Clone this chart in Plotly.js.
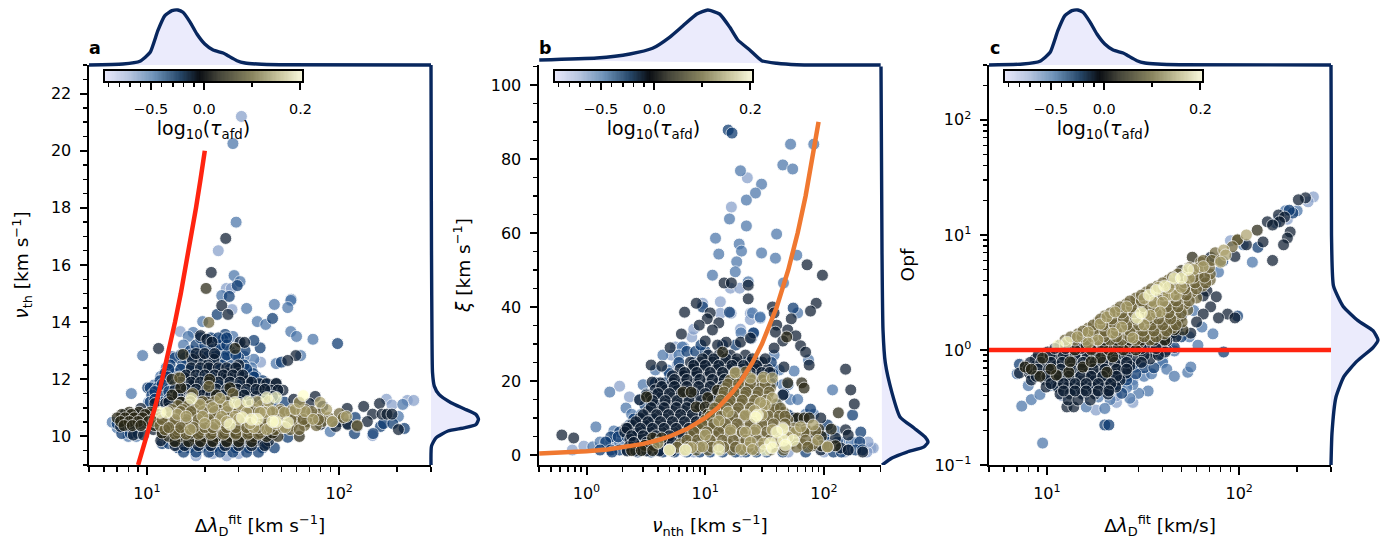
<!DOCTYPE html>
<html><head><meta charset="utf-8">
<script src="https://cdn.plot.ly/plotly-3.0.1.min.js"></script>
<style>html,body{margin:0;padding:0;background:#fff}</style></head>
<body><div id="chart" style="width:1397px;height:542px"></div>
<script>
// Scatter values: rows of [y, [x, x, ...]] per colour tier
const aPale=[[21.2,[31]],[16.5,[23.5]],[15.18,[25.9,27.5]],[14.44,[27.7]],[13.67,[14.9]],[12.6,[39]],[10.03,[149]],[11.3,[176]],[11.1,[188]],[11.26,[226,244]],[12.3,[13.2]],[12.0,[12.4]],[11.7,[11.4,36]],[11.4,[10.6,42]],[9.4,[22,30]],[9.32,[18,26]]];
const aLight=[[20.25,[28]],[17.5,[29.1]],[15.63,[28.4]],[15.42,[30.5]],[14.93,[24.5]],[14.8,[56.3]],[14.62,[46]],[14.76,[56]],[14.51,[54]],[14.48,[33]],[14.02,[37.5,19.5]],[13.92,[41.5]],[13.64,[17.4]],[13.67,[56]],[13.5,[60,16.4,28]],[13.4,[73]],[12.83,[9.5,63]],[12.55,[47]],[12.7,[36]],[11.5,[8.3]],[10.17,[89.8]],[10.7,[203]],[11.12,[214]],[13.2,[15.5,24,30]],[12.8,[13.5,32]],[12.4,[12.6,35]],[12.1,[11.8,37]],[11.8,[10.9,40]],[11.2,[10.2,44]],[10.0,[8,8.8]],[10.3,[7,7.5]],[10.5,[6.6]]];
const aBlue=[[15.28,[29.5]],[14.9,[26.8]],[14.27,[23.2]],[14.13,[45]],[13.57,[25.5]],[13.4,[24.8,21]],[13.1,[38.8]],[13.36,[36]],[13.25,[98]],[12.6,[50]],[11.7,[10.1,10.4]],[13.0,[16.8,18.9,21.3,24,27,32.4]],[12.75,[14,15.8,17.8,20,22.6,25.5,30]],[12.5,[13.2,15.3,17.2,19.5,22,24.5,27.7,32]],[12.2,[12.4,14,16.4,18.4,20.8,23.5,26.4,30.5,35.6]],[11.95,[11.7,13.5,15.4,17.5,20,22.3,25.8,29,33.5,40]],[11.7,[11.4,13.2,14.9,17.2,19.5,21.8,25,28.7,33,37.5,43.7]],[11.45,[10.6,12.4,14.5,16.8,18.9,22.3,25.8,30.5,35.6,41.2,48]],[11.2,[10.4,12,14,16,18.5,21.3,24.5,28,33,38,45,52]],[10.66,[121]],[10.35,[164]],[10.28,[218]],[9.97,[54]],[9.75,[12,13,15,17,20,23,27,31,36,42]],[9.6,[14.5,16.6,19,22,25,29,34,40,46]],[9.45,[15.5,18,21,24,28,33,38]],[10.1,[7.4,8.2,9,120,150]],[10.45,[7.0,7.8,110,170,190]],[12.85,[15,17,19,21,23,26,29]],[12.35,[13,15,17,19,21.5,24,27,30,33]],[12.08,[12.8,14.7,16.7,19,21.5,25,28,31,36]],[11.82,[12,14,16,18,20.5,23.5,27,31,35,39,42]],[11.57,[11,13,15.5,18,20.5,23,27,31.5,36,40,45]],[11.3,[11,13,15,17.5,20,23,26.5,30,35,40,46]],[13.2,[18,20,22,24,26]],[13.45,[19,21.5,23.5,26]]];
const aNavy=[[16.93,[25.7]],[15.74,[21.6]],[14.58,[24.5]],[14.27,[26.4]],[13.53,[19]],[13.4,[20.5]],[13.3,[21.8,30.5]],[13.29,[32.2]],[13.08,[11.5]],[12.83,[59.5]],[12.66,[54]],[12.7,[22.3,19,17.2]],[12.5,[20.7,30]],[12.2,[30,26.4,24.5]],[12.05,[17,14.5,15.8,26.4]],[11.95,[17.5,33.5]],[11.85,[38.5,42,47,47]],[11.62,[39,44,51,48,30,19.5]],[11.4,[16,18,23,27,34,37,45,40,75]],[11.3,[13.8,20,28,31,58]],[11.15,[11,12.5,15.5,24,33,62,162,70]],[11.05,[134,82]],[10.98,[9.3,13,18,26,110]],[10.78,[7.7,8.7,10.5,149,167,177,188]],[10.52,[140,69,100]],[10.42,[111,80,8.6,9.5]],[10.35,[124,96,7.3,8.2]],[10.24,[203,10.8,12.5,16,20,36]],[10.05,[8.5,9.6,12,14,17,20,24,28,33,39,45]],[9.85,[11.8,13.8,16,19,22,26,31,37,43]],[9.68,[14,15.7,18.5,21.5,25.5,30,35,41]],[12.4,[17,19,21,23.5,26,29]],[12.15,[16,18,20,22.5,25,28,31.5]],[11.9,[15,17,19,21,23.5,27,30.5,35]],[11.65,[14,16,18,20.5,23,26,29.5,33,37,41]],[11.45,[14.5,17,19.5,21.5,25,29,32]],[11.2,[13,15,17,19,22,26,30,35,38]],[12.9,[18,20,22.5]]];
const aDark=[[15.18,[20.3]],[13.08,[28.7]],[12.87,[15.4]],[12,[13.5,21.2]],[11.7,[15,27]],[11.45,[13.5,23]],[11.2,[15.1,20.5,62]],[10.85,[8.1,9.1,10.4]],[10.77,[7.4,8.3,9.8,11.3]],[10.65,[7,7.7,8.6,9.5,10.9]],[10.52,[7.3,8.1,9,10.2,12]],[10.38,[7.6,8.4,9.3,11]],[10.24,[12.4,14,16,18,20,23,27]],[10.0,[13,15,17.5,20,23,27,31,36,42,48,62]],[9.82,[14,16.5,19,22,26,30,35]],[10.12,[12,14.5,17,19,22,25.5,29,34,39,45]]];
const aOlive=[[13.99,[21]],[12.05,[14.8]],[11.75,[21]],[11.5,[17.3,28]],[11.22,[16.8,19.5,22.6,25.8]],[11.08,[14.5,16.4,18.7,21.3,24.5,29.5,34.4,39.5]],[10.94,[13.5,15.4,17.8,20.3,23.5,27,31.7,36.5,42.7,49.3,57,66.5]],[10.8,[12.4,14.2,16.4,18.9,22,25,29,33.5,38.8,45,52.4,61,70.7,79.6,100]],[10.66,[11.7,13.2,15.3,17.5,20.3,22.8,26.4,30.5,35.6,40.7,47,54,62.7,74,88,105]],[10.52,[11,12.4,14.2,16.4,18.9,21.6,24.5,28.4,33,37.5,43.7,50.5,59,68,81.5,92]],[10.38,[11.7,13.5,15.6,18,20.8,24,27.7,32,37,42.7,49.3,56.8,66,76,124]],[10.24,[12.4,14.5,16.8,19.5,22.3,25.8,30,34.4,39.5,46.4,55.6,62]],[10.08,[14,16,18.5,21.5,25,29,33.5,38]],[10.87,[13,15,17,19.5,22.5,26,30,34,38,44,50,56,64,72]],[10.59,[12,14,16,18.5,21,24,28,31.5,36,41,48,56,65,78]],[10.31,[13,15,17.5,20,22,26,29,33,38,44,51]]];
const aKhaki=[[11.33,[24]],[11.12,[18.9,30.5]],[11.01,[22]],[10.7,[24.5,19.5,28.7,109]],[10.42,[22.6]],[10.24,[16.8,42]],[10.77,[14.4]],[11.05,[26.4]],[11.22,[37.5,43]],[10.84,[41.2,38.8,33,52]],[10.87,[45,66.5]],[10.94,[59,86]],[11.19,[79.6,62]],[10.6,[73,30]],[10.52,[92,26]],[10.31,[52.4,36]],[10.45,[34.4,47,20]],[10.7,[16]]];
const aCream=[[10.84,[11.7,12.7]],[11.33,[17]],[11.19,[28.7]],[11.22,[33.5]],[11.36,[47,42]],[11.43,[65]],[10.66,[31.3]],[10.6,[37.5,35]],[10.52,[47,45]],[10.49,[54]],[10.42,[27]]];

const bPale=[[74.9,[22.6]],[67,[16.6]],[45.1,[16.3,19.5]],[41.4,[13.4]],[41,[9.5]],[38.3,[13.4,16.5,24]],[31.9,[7.7]],[36.6,[24]],[24.3,[5.8]],[34,[8,19.8]],[18.6,[1.9]],[15.7,[2.3]],[29.2,[5.6,6.6]],[1.35,[0.76,3,30]],[2.4,[0.95]],[1.9,[248,260]],[27,[5.2,15]],[0.8,[8,20,50,100,150,230]],[3.5,[190,235]]];
const bLight=[[84,[52.3,82]],[78.4,[45]],[77.3,[54.5]],[76.8,[19.8]],[73.2,[29.8]],[70.8,[26.5]],[68.9,[22.2]],[63.8,[16]],[61.9,[22.2]],[59.7,[39.9]],[58.6,[12.2]],[57,[19.3]],[55.1,[20.2]],[54.3,[13]],[54.6,[29.8]],[53.2,[39]],[54,[59]],[52.2,[18.4]],[49.5,[17.9]],[48.6,[11.5]],[46.5,[45.6]],[46.8,[23]],[38.4,[25,60]],[37,[29]],[37.3,[29]],[29.2,[6.4]],[17,[1.57]],[12.7,[2.15]],[10.3,[2.6,3]],[7.6,[1.2]],[2.2,[1.13]],[25.7,[74]],[22.7,[56]],[17.6,[118]],[31.5,[24.5]],[33,[25.5,20]],[27,[4.4,6,38]],[23,[3.8,4.8,38,42]],[19,[3,3.7,45,50]],[15,[2.8,3.3,52,60]],[11,[2.4,2.9,70,82]],[6.5,[1.7,2.2,105,125]],[3.5,[1.3,1.6,1.9,140,170]]];
const bBlue=[[87.8,[15.6]],[87,[16.8]],[40,[9.5]],[39.7,[55]],[38.6,[16]],[33,[25.5]],[28,[7,8.3,10]],[29.7,[9.2,14,18]],[25,[6,8,10,13,17,22,28,36]],[22,[5,6.4,8.2,30,37]],[19.5,[3.8,4.6,5.6,37]],[16.5,[3.2,3.9,46]],[13.5,[3.1,3.5,4.1,41]],[12.4,[77]],[10.8,[174,50]],[9.7,[2.5,3,3.6,60]],[8.1,[107,2.3,2.9,3.4]],[6.2,[204,1.9,2.5,3.1]],[4.9,[1.6,1.85,2.2,100]],[3.5,[1.45,2.5,3,4,5,7,9,105,130,200]],[1.35,[1.3,1.6,1.9,2.2,2.6,3.2,4,5.5,7,160,185,210]],[0.8,[1.64,2.7,3.5,4.4,5.5,7,9,11,14,18,22,27,33,45,70,120,140]]];
const bNavy=[[46.5,[14.4,16.6]],[45.9,[23]],[42.2,[23]],[41,[8.4,86]],[40,[36.8]],[38.6,[6.7]],[38.4,[11,38]],[38.9,[77]],[36.8,[10.4,53]],[35.7,[13]],[35.1,[8.9,40]],[33.8,[11.5,49.5]],[33.2,[39]],[32.7,[6.3]],[32.2,[58]],[30.8,[10,45]],[30.5,[15,19.8]],[29.7,[12.7]],[31.6,[24]],[29.5,[63.5]],[29,[5.06]],[28.9,[38]],[27.8,[70]],[24.3,[75,3.5]],[24,[4.3]],[23.8,[46]],[23.2,[152]],[48.6,[97]],[51.4,[72]],[27,[10.6,13,16.3,21.8]],[25.1,[7.5,9.1,11.5,14.5,18.2,24,30]],[23.2,[6.15,7.8,9.8,12.4,15.6,20.5,26.5,33.6]],[21.4,[5.3,6.6,8.4,10.6,13.4,17.3,22.2,29]],[19.5,[4.17,5.3,6.5,8.2,10.4,12.9,16.3,21,27,35.4]],[19.7,[3.57]],[17.6,[3.78,4.7,5.9,7.5,9.5,12,15.2,19,24,168]],[16.2,[45,3.2]],[15.7,[3.43,4.3,5.4,6.9,8.7,11,14,17.5]],[14.9,[2.8]],[13.8,[3.78,4.85,6.15,7.8,9.8,12.4,15.6,180]],[11.9,[3.3,4.17,5.3,6.6,8.4,10.6,13.4,42]],[10,[2.82,3.6,4.5,5.7,7.2,9.1,11.5,94,46,56]],[8.1,[2.4,3.1,3.85,4.85,6.15,7.8,9.8]],[7.3,[2.15]],[6.8,[152]],[6.2,[2.1,2.7,3.43,4.3,5.4,6.9,8.7]],[5.4,[160,0.62]],[4.6,[125,0.78]],[4.3,[2.32,2.95,3.78,4.85,6.15]],[2.4,[2.3,2.8,3.6,4.7,6]],[1.9,[138]],[1.35,[160,94]],[1.1,[2.2,2.6,3.2,4.1,5.2]],[0.8,[212]],[26,[9.5,11.8,15,18.5,25,32]],[24.2,[8,10,13,16.8,21,27]],[22.3,[6.7,8.5,11,14,18.5,24,30,35]],[20.4,[5.5,7,9,11.5,14.5,18.5,24,31]],[18.5,[4.3,5.5,7,8.8,11,14,17.8,22]],[16.6,[4,5,6.3,8,10,12.8,15.8]],[14.7,[3.6,4.6,5.8,7.3,9.2,11.5,14.5]],[12.8,[3.5,4.5,5.7,7,9,11.5,14]],[10.9,[3,3.9,4.9,6.2,7.8,9.8,12.3]],[9,[2.6,3.3,4.2,5.3,6.7,8.4,10.5]],[7.2,[2.2,2.85,3.6,4.5,5.7,7.3,9.2]],[5.2,[2.4,3,3.85,5,6.5,8]],[3.4,[2.5,3.2,4,5.3,7]]];
const bDark=[[31.9,[48.5]],[27.8,[14]],[19.5,[49.5,65]],[18.1,[68]],[15.7,[3.2]],[11.4,[132]],[17,[6.5,7.6]],[4.6,[3.6,4.3]],[2.6,[3.1,3.7]],[1.2,[2.4,2.9,3.6]],[17.5,[12.7,19]],[15.5,[10.5,14.5,20]],[13,[8.4,10,12.5,16.5]],[10,[60,68,75]],[7,[60,70,90,115,9,12,15]],[5,[85,95]],[2.5,[80,95,110,125]],[11,[10.5,13,16]]];
const bOlive=[[22.4,[17.9,21.8]],[20.3,[16.3,20.5,24.9,30]],[18.1,[14.8,18.2,23,29.2,35.4]],[15.9,[14,16.8,21.2,27,33.6]],[13.8,[13,15.6,19.8,24.9,31.4,39.8]],[11.6,[11.5,14.5,18.4,23,29.2,36.8,45.6]],[9.5,[10,12.7,15.6,19.8,24.9,31.4,39.8,49.5]],[7.3,[8.7,11,14,17.5,22.2,27.8,35.4,44,56]],[5.1,[7.5,9.5,12,15.2,19,24,30,38,46.5,60]],[3,[6.15,7.8,9.8,12.4,15.6,19.8,24.9,31.4,39.8,52,65,81]],[1.35,[5,6.6,8.4,10.6,13.4,16.8,21.2,26.5,35.4,45.6]],[6.5,[72,85]],[2.2,[107]],[19.2,[15.5,19,24,32]],[17,[14.4,17.5,22,28,34.5]],[14.8,[13.5,16.2,20.5,26,32.5]],[12.7,[12,15,19,24,30,38,43]],[10.5,[11,13.6,17,21.5,27,34,42,47]],[8.4,[9.4,11.8,14.8,18.6,24,30,37.5,47]],[6.2,[8,10.3,13,16.2,20.5,26,33,41,52,68]],[4,[7,8.6,11,14,17.2,22,27.5,35,43,55,70]],[2.1,[5.8,7.2,9,11.4,14.3,18,23,29,37,47,59,73]]];
const bKhaki=[[22.2,[17.9]],[21,[31]],[20.8,[36.8,24]],[15.4,[36.8]],[13.5,[32]],[14.2,[29.2]],[12,[26]],[10.8,[21.8,30]],[11.6,[15.6]],[6.8,[16.3,26.5,36.8]],[6.2,[21.8,57.6]],[9.2,[13]],[5.4,[10]],[2.4,[13]],[2.2,[9.5,107]],[2,[7.7]],[1.35,[6.8,5]],[3.2,[4,31]],[3.5,[24]],[7.3,[45]],[7.6,[63.5]],[4.9,[49.5]],[8.1,[81]],[4,[89]],[3.6,[40]],[1.5,[20,25]]];
const bCream=[[10.8,[27.5]],[3.2,[35.4]],[4,[45.6,55]],[7,[45]],[1.35,[32,13,5,6.8]],[1.9,[36.8]],[2.7,[47.4]],[10.2,[26.5]],[6.2,[40]]];

const cPale=[[21.4,[243]],[19.4,[228]],[13.7,[178,160]],[8.9,[90]],[0.35,[28,23]],[0.3,[18]],[0.4,[12,15.6,23]],[0.46,[13,16]],[0.55,[24,28]],[0.75,[27,30]]];
const cLight=[[16.2,[200,174]],[12.7,[155]],[8.2,[105]],[5.8,[117]],[4.75,[78]],[2.2,[58]],[1.58,[64]],[1.38,[73]],[1.1,[61]],[0.98,[46]],[0.8,[32,40]],[0.77,[40]],[0.68,[42]],[0.59,[46,32]],[0.64,[54]],[0.71,[56,29]],[0.44,[33.6]],[0.42,[30]],[0.38,[27]],[0.37,[21.3]],[0.43,[20]],[0.39,[18.5]],[0.31,[20]],[0.32,[16]],[0.155,[9.5]],[0.325,[7.4]],[0.37,[8.3]],[0.41,[9.2]],[0.49,[8,10.5]],[0.62,[7,35]],[0.5,[16.5,19,24,28]],[0.47,[22,26]],[0.55,[18,21]],[1.3,[55]]];
const cBlue=[[15.5,[190]],[16.4,[182]],[7.8,[125]],[5.9,[82]],[1.97,[98]],[0.96,[83]],[0.92,[39]],[1.05,[46]],[0.42,[24.5]],[0.59,[26]],[0.55,[26]],[0.223,[20,21]],[1.3,[44,50]],[1.6,[40,48]],[0.7,[32,36]],[0.62,[24,29]],[0.45,[14,17,21]],[0.5,[11,13,15,20,23]],[0.58,[8.5,10,12,14,17,19,22]],[0.75,[7.2,25,28]],[1.4,[38,44]],[1.0,[33,36,42]]];
const cNavy=[[21,[221]],[20.2,[203]],[14.9,[160]],[14.3,[172]],[13,[140,162]],[12.2,[149]],[10.6,[184]],[9.4,[178]],[8.2,[170,109]],[8.7,[133]],[6.5,[95]],[6,[149]],[6.4,[71]],[3.25,[68]],[2.95,[65]],[2.9,[76]],[2.37,[71]],[2.05,[65,87]],[1.97,[50]],[1.9,[95,78]],[1.75,[60]],[1.4,[56,45]],[1.3,[41,47]],[1.2,[36,42]],[0.32,[12.7,13.8]],[1.105,[11.7,13.5,15.8,18.4,21.3,24,28.7,34.4,39.5]],[0.96,[10.1,11.4,12.9,14.5,16.8,19.5,22.3,25.8,30.5,36,41.2]],[0.835,[8.7,9.8,11,12.4,14.2,16,18.4,21.3,24.5,29,34.4]],[0.725,[7.7,8.7,9.9,11.2,12.9,14.9,17.2,20,23.5,27]],[0.63,[7.2,8.1,9.4,10.6,12.3,14,16.4,18.9,22,25.8]],[0.548,[8.3,9.8,11.4,13.2,15.3,17.8,20.8,24]],[0.476,[9.9,11.4,12.9,14.9,17.2,20,22.8]],[0.414,[11.7,13.2,15.3,17.8,20.8]],[0.367,[12.9,14.5,16.8]],[0.9,[9,10.4,12.2,14,16.2,18,20.5,23,26,32,38]],[0.78,[8.2,9.3,10.5,12,13.5,15.4,17.8,19.5,22.5,26,31]],[0.68,[8,9,10.2,11.8,13.4,15.2,17.5,20,23,26]],[0.59,[8.8,10,11.6,13,15,17,19.5,23]],[0.51,[10.5,12.2,14,16,18.5,21.5]],[0.44,[12.2,14,16,18.5,21]],[1.03,[11,12.5,15,17,20,23,27,31,37]]];
const cDark=[[11,[124]],[9.06,[98]],[6.4,[57]],[4.9,[50]],[2.2,[44]],[1.97,[40,38]],[1.75,[34,36]],[1.49,[51]],[1.4,[31,33]],[1.15,[26,30]],[0.71,[7.7,15.4]],[0.59,[9.2]],[0.605,[11.2]],[0.64,[13,20.5]],[0.85,[9.5,19]],[0.79,[13.2,17]],[0.68,[8.3,10.5]],[1.0,[14,17,21,25,29]],[1.1,[12.5,16,19.5,23.5]],[0.87,[22]],[1.22,[20,23,27,31,36,41]],[1.5,[26,30,35,40,46]],[1.8,[33,37,42,48]]];
const cOlive=[[9.06,[98]],[7.9,[92]],[7,[75]],[5.8,[63]],[1.22,[12.4,14,16,18.4,21.3,24.5,29,34.4]],[1.38,[14.5,16.8,19.5,22.3,25.8,30,34.4,40.7]],[1.55,[16.4,18.4,21.3,24.5,28.4,33,38.8,45]],[1.75,[18.4,20.8,24,27.7,32,37,42.7,50.5]],[1.98,[20,22.8,26.4,30.5,35.6,40.7,47]],[2.23,[22.8,26.4,30.5,34.4,39.5,46.4,54]],[2.51,[25.8,29,33.5,38.8,45,52.4]],[2.83,[29,33.5,37.5,43.7,51.5,60]],[3.2,[33,37,42.7,49.3,56.8]],[3.6,[37.5,42.7,49.3,55.6,64.5]],[4.06,[42.7,48,55.6,62.7,70.7]],[4.58,[48,54,61,70.7]],[1.3,[13.3,15.2,17.3,19.8,23,27,32,37]],[1.46,[15.4,17.6,20,23,27,31.5,36,42]],[1.65,[17.4,19.6,22.5,26,30,35,40,47]],[1.86,[19,21.8,25,29,33.5,38,44]],[2.1,[21.4,24.5,28.4,32.5,37,43,50]],[2.37,[24,27.5,32,36,42,48]],[2.67,[27,31,35,40.5,47,55]],[3,[31,35,40,46,53]],[3.4,[35,40,46,52,60]],[3.83,[40,45,52,59,67]],[4.3,[45,51,58,66]],[5.2,[55,62,70]],[6,[65,72,80]]];
const cKhaki=[[10,[109]],[7.4,[83]],[6.7,[85]],[5.8,[80]],[5.3,[65]],[5,[58]],[3,[42.7,47]],[3.5,[38,43,50]],[2.6,[36,40]],[1.3,[14.4]],[1.43,[16.4]],[1.68,[18.9]],[1.94,[20.5]],[2.14,[22.6,38.8]],[2.37,[26]],[2,[34.4]],[1.58,[24.5]],[1.4,[22]],[1.22,[18.4]],[1.15,[16.4]],[1.27,[28]],[1.65,[32]],[2.8,[32]],[4.2,[55]]];
const cCream=[[5,[54]],[4.2,[46,50]],[3,[34]],[3.3,[37]],[1.9,[29.5]],[2.1,[31]],[1.17,[12.7]],[1.1,[11.4]],[3.6,[41]]];

const tierNames=['pale','light','blue','navy','dark','olive','khaki','cream'];
const tierColors=['rgb(134,159,202)','rgb(73,116,168)','rgb(10,55,110)','rgb(12,28,48)','rgb(40,38,20)','rgb(108,98,56)','rgb(172,162,110)','rgb(255,255,205)'];

// Reference lines
const aLineX=[9,10,11,12,13,14,15,16,17,18,19,20];
const aLineY=[9,10,11,12,13,14,15,16,17,18,19,20];
const bLineX=[0.4,0.7,1,1.5,2,3,4,5,7,10,13,17,20,25,30,35,40,50,60,70,80,90];
const bLineY=[0.4,0.7,1,1.5,2,3,4,5,7,10,13,17,20,25,30,35,40,50,60,70,80,90];
const cLineX=[5,300];
const cLineY=[1,1];

// Marginal density curves (relative heights)
const aTopX=[5,7.5,9.2,10.4,11.4,12.4,13.5,14.5,15.4,16.8,18.2,20,22.1,24.9,26.4,29.4,32.4,37.5,49,300];
const aTopH=[0,1,3.7,12.7,34.3,49.3,54.3,55,52.7,42.7,31,21,15,12,9.3,4.3,2,1,0.3,0];
const bTopX=[0.4,1.22,2.32,3.6,5,6.5,8.5,10.5,13.2,16.1,18.8,23.7,29.9,40,59,300];
const bTopH=[5,7,11,16.7,27.7,39.3,51,55,51,37.7,25,15,4.3,1.7,0.3,0];
const cTopX=aTopX;
const cTopH=aTopH;
const aRightY=[9,9.66,9.95,10.19,10.3,10.42,10.6,10.77,10.97,11.18,11.47,11.76,12.24,13.4,16.5,20,23];
const aRightW=[0,0.5,5,17,33,45,47.5,45,33,20,8,3.3,1.5,1,0.5,0.2,0];
const bRightY=[-2.7,-0.8,0.8,2.2,3.5,4.9,7.3,10.3,16.8,24.9,33.8,55,105];
const bRightW=[1,11,26,43,47,44,33,19,11,4.3,2,1,0];
const cRightY=[0.1,0.19,0.39,0.59,0.8,1.05,1.22,1.47,1.8,2.4,3.6,10,300];
const cRightW=[0,1,5,13,26,42,47,42,27,12,2.5,0.5,0];

// Colour bar: position along the bar, colour stops, tick positions and labels
const cbStops=[0,0.127,0.25,0.38,0.48,0.58,0.75,0.9,1];
const cbHex=['#e8e8fa','#b5c4de','#6d92b8','#27486a','#0b0f14','#45453a','#8a8660','#cfcca6','#f6f6da'];
const cbMajor=[0.232,0.503,0.992];
const cbLabels=['\u22120.5','0.0','0.2'];
const cbMinor=[0.017,0.073,0.127,0.181,0.288,0.344,0.398,0.453,0.746];

// Axis tick values and labels
const xTickVals=[[10,100],[1,10,100],[10,100]];
const xTickText=[['10<sup>1</sup>','10<sup>2</sup>'],['10<sup>0</sup>','10<sup>1</sup>','10<sup>2</sup>'],['10<sup>1</sup>','10<sup>2</sup>']];
const cYTickVals=[0.1,1,10,100];
const cYTickText=['10<sup>\u22121</sup>','10<sup>0</sup>','10<sup>1</sup>','10<sup>2</sup>'];

const titleA='\u0394<i>\u03bb</i><sub>D</sub><sup>fit</sup> [km s<sup>\u22121</sup>]';
const titleB='<i>\u03bd</i><sub>nth</sub> [km s<sup>\u22121</sup>]';
const titleC='\u0394<i>\u03bb</i><sub>D</sub><sup>fit</sup> [km/s]';

const W=1397,H=542,FF='"DejaVu Sans"',NAVY='#08275e',FILL='#ebebfc',RED='#ff2410',ORANGE='#f07830';
const fx=(p)=>p/W, fy=(p)=>1-p/H;
const traces=[];
function flat(rows){const x=[],y=[];rows.forEach(r=>r[1].forEach(v=>{x.push(v);y.push(r[0]);}));return {x,y};}
function addScatter(tiers,xa,ya){
  tiers.forEach((rows,i)=>{const p=flat(rows);
    traces.push({type:'scatter',mode:'markers',x:p.x,y:p.y,xaxis:xa,yaxis:ya,name:tierNames[i],showlegend:false,hoverinfo:'skip',
      marker:{size:12,color:tierColors[i],opacity:0.72,line:{color:'#fff',width:0.9}}});
  });
}
function addLine(x,y,xa,ya,color){traces.push({type:'scatter',mode:'lines',x,y,xaxis:xa,yaxis:ya,showlegend:false,hoverinfo:'skip',line:{color,width:4.5}});}
const curve={color:NAVY,width:3.4,shape:'spline',smoothing:0.5};
function addTop(x,h,xa,ya){traces.push({type:'scatter',mode:'lines',x,y:h,xaxis:xa,yaxis:ya,fill:'toself',fillcolor:FILL,line:curve,showlegend:false,hoverinfo:'skip'});}
function addRight(w,y,xa,ya){traces.push({type:'scatter',mode:'lines',x:w,y,xaxis:xa,yaxis:ya,fill:'toself',fillcolor:FILL,line:curve,showlegend:false,hoverinfo:'skip'});}

addScatter([aPale,aLight,aBlue,aNavy,aDark,aOlive,aKhaki,aCream],'x','y');
addScatter([bPale,bLight,bBlue,bNavy,bDark,bOlive,bKhaki,bCream],'x2','y2');
addScatter([cPale,cLight,cBlue,cNavy,cDark,cOlive,cKhaki,cCream],'x3','y3');
addLine(aLineX,aLineY,'x','y',RED);
addLine(bLineX,bLineY,'x2','y2',ORANGE);
addLine(cLineX,cLineY,'x3','y3',RED);
addTop(aTopX,aTopH,'x','y4');addTop(bTopX,bTopH,'x2','y5');addTop(cTopX,cTopH,'x3','y6');
addRight(aRightW,aRightY,'x4','y');addRight(bRightW,bRightY,'x5','y2');addRight(cRightW,cRightY,'x6','y3');

const layout={width:W,height:H,margin:{l:0,r:0,t:0,b:0},paper_bgcolor:'#fff',plot_bgcolor:'rgba(0,0,0,0)',
  font:{family:FF,size:16,color:'#000'},showlegend:false,annotations:[]};
const L=[89,539,989];
const TF={family:FF,size:18.5,color:'#000'};
const axBase={showgrid:false,zeroline:false,showline:true,linecolor:'#000',linewidth:2,ticks:'outside',ticklen:7.5,tickwidth:2,tickcolor:'#000',ticklabelstandoff:5,tickfont:{family:FF,size:16,color:'#000'}};
const logMinor={ticks:'outside',ticklen:4.5,tickwidth:1.5,tickcolor:'#000',dtick:'D1',showgrid:false};
const linMinor=(d)=>({ticks:'outside',ticklen:4.5,tickwidth:1.5,tickcolor:'#000',dtick:d,showgrid:false});
const xRanges=[[Math.log10(5),Math.log10(300)],[-0.4,2.48],[Math.log10(5),Math.log10(300)]];
const xTitles=[titleA,titleB,titleC];
const names=['a','b','c'];
for(let i=0;i<3;i++){
  const s=i===0?'':String(i+1), l=L[i];
  layout['xaxis'+s]=Object.assign({},axBase,{type:'log',range:xRanges[i],domain:[fx(l),fx(l+342)],anchor:'y'+s,tickmode:'array',tickvals:xTickVals[i],ticktext:xTickText[i],
    minor:logMinor,title:{text:xTitles[i],standoff:17,font:TF}});
  // marginal axes reach 3 px past the baseline so the whole curve width is drawn
  layout['yaxis'+(i+4)]={domain:[fy(68),fy(5)],anchor:'x'+s,range:[-3,60],visible:false};
  layout['xaxis'+(i+4)]={domain:[fx(l+339),fx(l+342+50)],anchor:'y'+s,range:[-3,50],visible:false};
  const cx='xaxis'+(i+7), cy='yaxis'+(i+7);
  layout[cx]={domain:[fx(l+16),fx(l+213)],anchor:'y'+(i+7),range:[0,1],showgrid:false,zeroline:false,showline:true,linecolor:'#000',linewidth:2.2,mirror:true,
    ticks:'outside',ticklen:7,tickwidth:2,tickcolor:'#000',tickmode:'array',tickvals:cbMajor,ticktext:cbLabels,tickfont:{family:FF,size:14.4,color:'#000'},ticklabelstandoff:7,
    minor:{ticks:'outside',ticklen:4,tickwidth:1.5,tickcolor:'#000',tickmode:'array',tickvals:cbMinor,showgrid:false},
    title:{text:'log<sub>10</sub>(<i>\u03c4</i><sub>afd</sub>)',standoff:0,font:{family:FF,size:19,color:'#000'}}};
  layout[cy]={domain:[fy(81),fy(70.7)],anchor:'x'+(i+7),range:[0,1],showgrid:false,zeroline:false,showline:true,linecolor:'#000',linewidth:2.2,mirror:true,showticklabels:false,ticks:''};
  const pos=[];for(let k=0;k<=150;k++)pos.push(k/150);
  traces.push({type:'heatmap',x:pos,y:[0,1],z:[pos,pos],zmin:0,zmax:1,showscale:false,hoverinfo:'skip',xaxis:'x'+(i+7),yaxis:'y'+(i+7),
    colorscale:cbStops.map((v,k)=>[v,cbHex[k]])});
  layout.annotations.push({xref:'paper',yref:'paper',x:fx(l+6),y:fy(48),xanchor:'center',yanchor:'middle',text:'<b>'+names[i]+'</b>',showarrow:false,font:{family:FF,size:17.5,color:'#000'}});
}
layout.yaxis=Object.assign({},axBase,{domain:[fy(465),fy(65)],anchor:'x',range:[9,23],dtick:2,tick0:10,minor:linMinor(0.5),
  title:{text:'<i>\u03bd</i><sub>th</sub> [km s<sup>\u22121</sup>]',standoff:17,font:TF}});
layout.yaxis2=Object.assign({},axBase,{domain:[fy(465),fy(65)],anchor:'x2',range:[-2.7,105.4],dtick:20,tick0:0,minor:linMinor(5),
  title:{text:'<i>\u03be</i> [km s<sup>\u22121</sup>]',standoff:15,font:TF}});
layout.yaxis3=Object.assign({},axBase,{type:'log',domain:[fy(465),fy(65)],anchor:'x3',range:[-1,Math.log10(300)],tickmode:'array',tickvals:cYTickVals,ticktext:cYTickText,minor:logMinor,
  title:{text:'Opf',standoff:15,font:TF}});
Plotly.newPlot('chart',traces,layout,{displayModeBar:false,staticPlot:true});
</script></body></html>
